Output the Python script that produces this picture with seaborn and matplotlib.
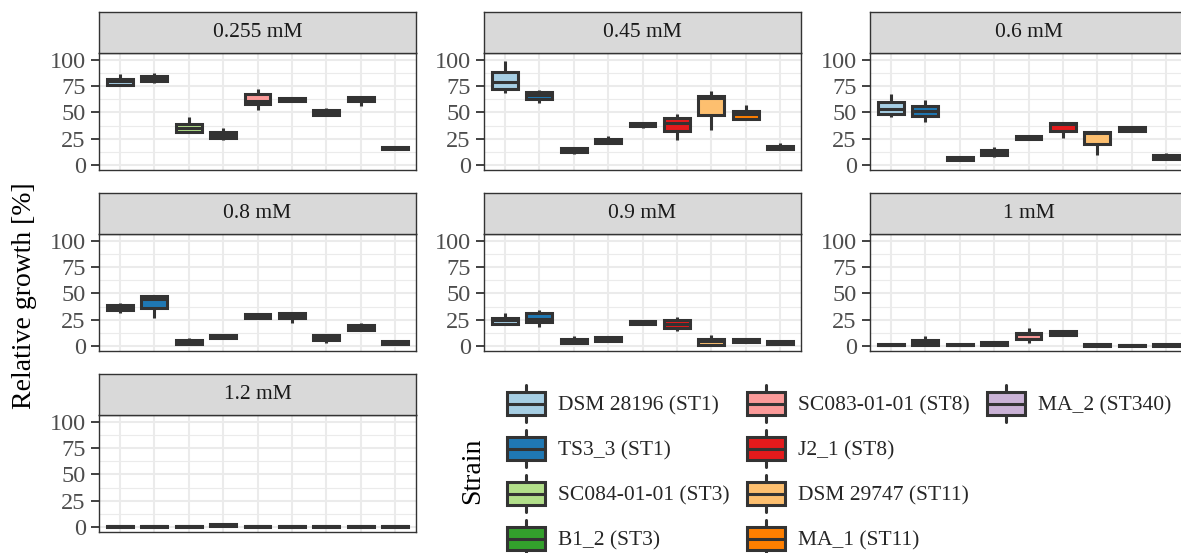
import numpy as np
import pandas as pd
import matplotlib
matplotlib.use("Agg")
import matplotlib.pyplot as plt
import seaborn as sns
from matplotlib.legend_handler import HandlerBase
from matplotlib.patches import Patch, Rectangle
from matplotlib.lines import Line2D

sns.set_style("white")
plt.rcParams['font.family'] = ['Liberation Serif', 'DejaVu Serif']

strains = ["DSM 28196 (ST1)", "TS3_3 (ST1)", "SC084-01-01 (ST3)", "B1_2 (ST3)",
           "SC083-01-01 (ST8)", "J2_1 (ST8)", "DSM 29747 (ST11)", "MA_1 (ST11)",
           "MA_2 (ST340)"]
colors = ["#A6CEE3", "#1F78B4", "#B2DF8A", "#33A02C", "#FB9A99", "#E31A1C",
          "#FDBF6F", "#FF7F00", "#CAB2D6"]
concentrations = ["0.255 mM", "0.45 mM", "0.6 mM", "0.8 mM", "0.9 mM", "1 mM", "1.2 mM"]

# five-number summaries [min, q1, median, q3, max] per strain
conc_0255 = [[75.5, 76, 79.5, 82, 86.5], [77.5, 79.5, 82, 84.5, 87], [30.5, 31.5, 35, 39, 46],
             [23.5, 26, 28.5, 31.5, 35], [52, 58, 61, 67.5, 72], [60.5, 61, 62, 63.5, 64.5],
             [46.5, 47.5, 49.5, 52, 54.5], [56.5, 60.5, 63, 65, 66], [14.5, 15, 16, 17.5, 18]]
conc_045 = [[68, 72.5, 79, 88.5, 99], [59, 63, 66.5, 69, 71.5], [10, 12, 14.5, 16.5, 17],
            [20, 20.5, 22.5, 24.5, 27.5], [35.5, 37, 38.5, 39.5, 41], [24, 32, 40, 44.5, 48],
            [33, 47.5, 63.5, 65.5, 70], [42.5, 43.5, 48.5, 51.5, 57.5], [14.5, 15, 17, 18.5, 21]]
conc_06 = [[46, 48, 53.5, 60, 67.5], [41, 47, 51.5, 56.5, 61.5], [4.5, 5, 6, 7.5, 8],
           [8, 9, 11, 14, 17.5], [24.5, 25, 26, 27.5, 28], [26, 32.5, 38.5, 40, 40.5],
           [9.5, 20, 30, 31.5, 32], [32, 32.5, 34, 36, 36.5], [5.5, 6, 7.5, 9.5, 11.5]]
conc_08 = [[31.5, 34, 36.5, 38.5, 41], [27, 36.5, 45, 47.5, 48], [1.5, 2, 3.5, 5.5, 7.5],
           [7.5, 8, 9, 10, 11], [25.5, 26.5, 28.5, 30.5, 31], [22, 26.5, 28.5, 31.5, 32.5],
           [3, 5.5, 8, 10, 10.5], [15, 15.5, 18, 19.5, 21.5], [1, 1.5, 3, 4.5, 5]]
conc_09 = [[20.5, 21, 25, 27, 31], [18, 23, 25.5, 31, 34], [2.5, 3, 5, 7, 9.5],
           [4.5, 5, 7, 8.5, 9], [20, 20.5, 22, 23.5, 24], [14.5, 17.5, 21, 24.5, 27.5],
           [0, 0.5, 4.5, 7, 10.5], [3.5, 4, 5.5, 7, 7.5], [1, 1.5, 3, 4.5, 5]]
conc_1 = [[0, 0.5, 1, 2, 2.5], [0, 0.5, 3, 5.5, 9.5], [0, 0.5, 1, 2, 2.5],
          [0.5, 1, 2, 3.5, 4], [3, 6.5, 11, 12.5, 17.5], [10, 10.5, 12, 14, 14.5],
          [0, 0.3, 1, 1.5, 2], [-0.5, 0, 0.5, 1, 1.5], [0, 0.3, 1, 2, 2.5]]
conc_12 = [[0, 0.2, 0.5, 1, 1.2], [0, 0.2, 0.5, 1, 1.2], [0, 0.2, 0.5, 1, 1.2],
           [0.8, 1, 1.5, 2.5, 3], [0, 0.2, 0.5, 1, 1.2], [0, 0.2, 0.5, 1, 1.2],
           [0, 0.2, 0.5, 1, 1.2], [0, 0.2, 0.5, 1, 1.2], [0, 0.2, 0.5, 1, 1.2]]
all_conc = [conc_0255, conc_045, conc_06, conc_08, conc_09, conc_1, conc_12]

rows = []
for conc, summ in zip(concentrations, all_conc):
    for strain, vals in zip(strains, summ):
        for v in vals:
            rows.append((conc, strain, v))
df = pd.DataFrame(rows, columns=["conc", "strain", "value"])

W, H = 1181, 553
fig = plt.figure(figsize=(W / 100, H / 100), dpi=100)

def rect(left, top, w, h):
    return [left / W, 1 - (top + h) / H, w / W, h / H]

col_left = [99, 484, 870]
pan_w = 317
strip_top = [12, 193, 374]
strip_h = 41
pan_h = 117
dark = "#333333"
box_lw = 2.2

for i, conc in enumerate(concentrations):
    r, c = divmod(i, 3)
    top = strip_top[r] + strip_h
    ax = fig.add_axes(rect(col_left[c], top, pan_w, pan_h))
    sub = df[df.conc == conc]
    sns.boxplot(data=sub, x="strain", y="value", hue="strain", order=strains,
                hue_order=strains, palette=colors, width=0.75, linewidth=box_lw,
                linecolor=dark, whis=(0, 100), showfliers=False, showcaps=False,
                saturation=1, legend=False, dodge=False, ax=ax)
    ax.set_xlim(-0.6, 8.6)
    ax.set_ylim(-4.8, 106.5)
    ax.set_yticks([0, 25, 50, 75, 100])
    ax.set_yticklabels(["0", "25", "50", "75", "100"])
    ax.set_yticks([12.5, 37.5, 62.5, 87.5], minor=True)
    ax.set_xticks(range(9))
    ax.set_xlabel("")
    ax.set_ylabel("")
    ax.set_axisbelow(True)
    ax.grid(which="major", color="#EBEBEB", lw=1.5)
    ax.grid(which="minor", axis="y", color="#EBEBEB", lw=0.8)
    ax.tick_params(axis="x", length=0, labelbottom=False)
    ax.tick_params(axis="y", which="major", length=5.5, width=1.3, color=dark,
                   labelsize=17.5, labelcolor="#4D4D4D", pad=4, left=True)
    ax.tick_params(axis="y", which="minor", length=0)
    for s in ax.spines.values():
        s.set_color(dark)
        s.set_linewidth(1.0)
    sax = fig.add_axes(rect(col_left[c], strip_top[r], pan_w, strip_h))
    sax.set_facecolor("#D9D9D9")
    sax.set_xticks([])
    sax.set_yticks([])
    for s in sax.spines.values():
        s.set_color(dark)
        s.set_linewidth(1.0)
    sax.text(0.5, 0.5, conc, ha="center", va="center", fontsize=15.5,
             color="#1A1A1A", transform=sax.transAxes)

fig.text(25 / W, 1 - 296 / H, "Relative growth [%]", rotation=90, ha="center",
         va="center", fontsize=20, color="black")


class BoxHandler(HandlerBase):
    def create_artists(self, legend, orig_handle, xdescent, ydescent, width,
                       height, fontsize, trans):
        x0, y0 = -xdescent, -ydescent
        if not orig_handle.get_visible():
            blank = Rectangle((x0, y0), width, height, visible=False, transform=trans)
            return [blank]
        fc = orig_handle.get_facecolor()
        cx = x0 + width / 2
        box = Rectangle((x0, y0 + height * 0.185), width, height * 0.63, facecolor=fc,
                        edgecolor=dark, lw=box_lw, transform=trans)
        wl = Line2D([cx, cx], [y0, y0 + height], color=dark, lw=box_lw, transform=trans)
        med = Line2D([x0, x0 + width], [y0 + height / 2] * 2, color=dark, lw=box_lw,
                     transform=trans)
        return [wl, box, med]


handles, labels = [], []
for s, col in zip(strains, colors):
    handles.append(Patch(facecolor=col))
    labels.append(s)
for _ in range(3):
    p = Patch(facecolor="none")
    p.set_visible(False)
    handles.append(p)
    labels.append("")

leg = fig.legend(handles, labels, ncol=3, loc="upper left",
                 bbox_to_anchor=(507 / W, 1 - 385 / H), frameon=False,
                 fontsize=15.5, handler_map={Patch: BoxHandler()},
                 handlelength=1.75, handleheight=2.27, labelspacing=0.37,
                 handletextpad=0.62, columnspacing=0.8, borderpad=0,
                 borderaxespad=0)

fig.text(473 / W, 1 - 471 / H, "Strain", rotation=90, ha="center", va="center",
         fontsize=20, color="black")

fig.savefig("out.png", dpi=100)
